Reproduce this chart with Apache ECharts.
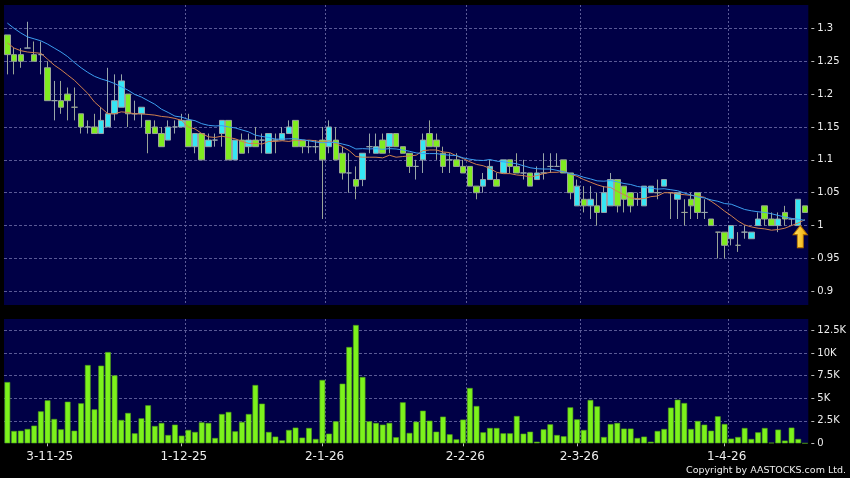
<!DOCTYPE html>
<html>
<head>
<meta charset="utf-8">
<script src="https://cdn.jsdelivr.net/npm/echarts@6/dist/echarts.min.js"></script>
<style>
html,body{margin:0;padding:0;background:#000;}
#chart{width:850px;height:478px;}
</style>
</head>
<body>
<div id="chart"></div>
<script>
// ---- data ----
const categories = [
"23-10-25","24-10-25","27-10-25","28-10-25","30-10-25","31-10-25",
"3-11-25","4-11-25","5-11-25","6-11-25","7-11-25","10-11-25","11-11-25","12-11-25","13-11-25","14-11-25","17-11-25","18-11-25","19-11-25","20-11-25","21-11-25","24-11-25","25-11-25","26-11-25","27-11-25","28-11-25",
"1-12-25","2-12-25","3-12-25","4-12-25","5-12-25","8-12-25","9-12-25","10-12-25","11-12-25","12-12-25","15-12-25","16-12-25","17-12-25","18-12-25","19-12-25","22-12-25","23-12-25","24-12-25","29-12-25","30-12-25","31-12-25",
"2-1-26","5-1-26","6-1-26","7-1-26","8-1-26","9-1-26","12-1-26","13-1-26","14-1-26","15-1-26","16-1-26","19-1-26","20-1-26","21-1-26","22-1-26","23-1-26","26-1-26","27-1-26","28-1-26","29-1-26","30-1-26",
"2-2-26","3-2-26","4-2-26","5-2-26","6-2-26","9-2-26","10-2-26","11-2-26","12-2-26","13-2-26","16-2-26","20-2-26","23-2-26","24-2-26","25-2-26","26-2-26","27-2-26",
"2-3-26","3-3-26","4-3-26","5-3-26","6-3-26","9-3-26","10-3-26","11-3-26","12-3-26","13-3-26","16-3-26","17-3-26","18-3-26","19-3-26","20-3-26","23-3-26","24-3-26","25-3-26","26-3-26","27-3-26","30-3-26","31-3-26",
"1-4-26","2-4-26","8-4-26","9-4-26","10-4-26","13-4-26","14-4-26","15-4-26","16-4-26","17-4-26","20-4-26","21-4-26","22-4-26"
];
const opens = [
1.29,1.26,1.26,1.27,1.26,1.26,1.24,1.19,1.19,1.20,1.18,1.17,1.15,1.15,1.14,1.15,1.17,1.18,1.20,1.17,
1.17,1.16,1.15,1.14,1.13,1.15,1.15,1.16,1.12,1.14,1.12,1.13,1.14,1.16,1.10,1.13,1.12,1.13,1.13,1.11,
1.13,1.13,1.14,1.16,1.13,1.12,1.12,1.13,1.12,1.13,1.11,1.08,1.07,1.07,1.12,1.11,1.13,1.12,1.14,1.12,
1.11,1.09,1.10,1.14,1.13,1.11,1.10,1.10,1.09,1.09,1.06,1.06,1.07,1.07,1.08,1.10,1.09,1.08,1.08,1.07,
1.08,1.09,1.09,1.10,1.08,1.03,1.04,1.03,1.03,1.02,1.03,1.07,1.06,1.05,1.04,1.03,1.05,1.05,1.06,1.05,
1.04,1.02,1.04,1.05,1.02,1.01,0.99,0.99,0.98,0.97,0.99,0.98,1.00,1.03,1.01,1.00,1.02,1.01,1.00,1.03
];
const closes = [
1.26,1.25,1.25,1.27,1.25,1.26,1.19,1.19,1.18,1.19,1.18,1.15,1.15,1.14,1.16,1.17,1.19,1.22,1.17,1.17,
1.18,1.14,1.14,1.12,1.15,1.15,1.16,1.12,1.14,1.10,1.13,1.13,1.16,1.10,1.13,1.11,1.13,1.12,1.13,1.14,
1.13,1.14,1.15,1.12,1.12,1.12,1.12,1.10,1.15,1.10,1.08,1.08,1.06,1.11,1.12,1.12,1.11,1.14,1.12,1.11,
1.09,1.09,1.13,1.12,1.12,1.09,1.10,1.09,1.08,1.06,1.05,1.07,1.09,1.06,1.10,1.09,1.08,1.08,1.06,1.08,
1.08,1.09,1.09,1.08,1.05,1.06,1.03,1.04,1.02,1.05,1.07,1.03,1.04,1.03,1.04,1.06,1.06,1.05,1.07,1.05,
1.05,1.02,1.03,1.02,1.02,1.00,0.99,0.97,1.00,0.97,0.99,0.99,1.01,1.01,1.00,1.01,1.01,1.01,1.04,1.02
];
const lows = [
1.23,1.23,1.24,1.27,1.25,1.23,1.19,1.16,1.17,1.16,1.16,1.14,1.14,1.14,1.14,1.15,1.16,1.18,1.15,1.16,
1.15,1.11,1.14,1.12,1.13,1.14,1.15,1.12,1.11,1.10,1.12,1.12,1.12,1.10,1.10,1.11,1.11,1.12,1.11,1.11,
1.11,1.13,1.14,1.12,1.11,1.11,1.11,1.01,1.11,1.10,1.07,1.05,1.04,1.06,1.11,1.11,1.11,1.11,1.12,1.11,
1.08,1.07,1.08,1.12,1.10,1.08,1.08,1.09,1.08,1.06,1.04,1.05,1.07,1.06,1.08,1.08,1.08,1.07,1.06,1.07,
1.07,1.08,1.09,1.08,1.04,1.03,1.02,1.01,1.00,1.02,1.03,1.02,1.02,1.02,1.03,1.03,1.05,1.04,1.06,1.01,
1.01,1.00,1.01,1.01,1.01,1.00,0.95,0.95,0.97,0.96,0.98,0.98,1.00,1.00,1.00,0.99,1.00,1.00,1.00,1.02
];
const highs = [
1.29,1.27,1.27,1.31,1.28,1.28,1.25,1.22,1.22,1.21,1.21,1.17,1.16,1.17,1.18,1.24,1.23,1.23,1.20,1.19,
1.18,1.16,1.16,1.15,1.16,1.16,1.17,1.17,1.14,1.14,1.14,1.14,1.16,1.16,1.13,1.14,1.14,1.15,1.14,1.14,
1.14,1.15,1.16,1.16,1.13,1.13,1.13,1.15,1.16,1.15,1.12,1.11,1.09,1.11,1.14,1.14,1.14,1.14,1.14,1.12,
1.11,1.10,1.14,1.16,1.14,1.12,1.11,1.11,1.10,1.09,1.06,1.08,1.10,1.08,1.10,1.10,1.11,1.10,1.08,1.09,
1.11,1.11,1.11,1.10,1.08,1.07,1.06,1.06,1.05,1.06,1.08,1.07,1.06,1.05,1.05,1.06,1.06,1.07,1.07,1.05,
1.05,1.04,1.05,1.05,1.04,1.01,0.99,0.99,1.00,0.99,1.00,0.99,1.02,1.03,1.02,1.02,1.03,1.01,1.04,1.03
];
const volumes = [
6800,1370,1400,1590,1960,3550,4770,2700,1550,4620,1400,4440,8690,3770,8620,10130,7540,2590,3370,1110,
2770,4220,1920,2260,920,2070,850,1480,1260,2330,2260,590,3250,3480,1330,2370,3250,6470,4400,1260,
740,330,1480,1740,630,1700,480,7030,1070,2440,6620,10690,13130,7360,2440,2260,2070,2260,670,4550,
1150,2400,3620,2510,1290,2960,1000,440,2630,6140,4140,1220,1700,1700,1110,1110,3030,1070,1290,180,
1550,2110,920,780,3990,2660,1480,4810,4100,700,2140,2260,1630,1630,590,740,180,1370,1590,3960,
4840,4470,1590,2480,2070,1400,3000,2140,520,700,1700,480,1220,1700,70,1520,300,1740,480,0
];
// moving averages for the first days (history before the window)
const ma10Lead = [1.278,1.270,1.266,1.264,1.263,1.262,1.253,1.244,1.237];
const ma20Lead = [1.308,1.300,1.293,1.287,1.284,1.281,1.276,1.270,1.264,1.257,1.248,1.240,1.233,1.227,1.223,1.220,1.216,1.211,1.206];
const priceTicks = [0.9,0.95,1,1.05,1.1,1.15,1.2,1.25,1.3];
const volumeTicks = [0,2500,5000,7500,10000,12500];
const labelIndices = [6,26,47,68,85,107];
const arrowIndex = 118;

// ---- derived ----
function movingAverage(values, n, lead) {
  return values.map(function (v, i) {
    if (i < n - 1) return lead[i];
    let s = 0;
    for (let k = i - n + 1; k <= i; k++) s += values[k];
    return +(s / n).toFixed(4);
  });
}
const ma10 = movingAverage(closes, 10, ma10Lead);
const ma20 = movingAverage(closes, 20, ma20Lead);
const candleData = opens.map(function (o, i) { return [o, closes[i], lows[i], highs[i]]; });
const gridBoundary = labelIndices.map(function (i) { return i + 1; });

const GRID_COLOR = '#5a5a96';
const TEXT_COLOR = '#eeeeee';
const FONT = 'DejaVu Sans';

const chart = echarts.init(document.getElementById('chart'), null, {renderer: 'canvas'});
chart.setOption({
  animation: false,
  backgroundColor: '#000000',
  grid: [
    {left: 4, right: 41.7, top: 5, height: 300, show: true, backgroundColor: '#000046', borderWidth: 0},
    {left: 4, right: 41.7, top: 319, bottom: 34.7, show: true, backgroundColor: '#000046', borderWidth: 0}
  ],
  xAxis: [
    {
      type: 'category', gridIndex: 0, data: categories, boundaryGap: true,
      axisLine: {show: false}, axisTick: {show: false}, axisLabel: {show: false},
      splitLine: {show: true, showMaxLine: false, showMinLine: false,
        interval: function (idx) { return gridBoundary.indexOf(idx) >= 0; },
        lineStyle: {color: GRID_COLOR, type: [2, 2], width: 1}}
    },
    {
      type: 'category', gridIndex: 1, data: categories, boundaryGap: true, offset: 3,
      axisLine: {show: false},
      axisTick: {show: true, alignWithLabel: true, length: 3,
        interval: function (idx) { return labelIndices.indexOf(idx) >= 0; },
        lineStyle: {color: '#bbbbbb'}},
      axisLabel: {show: true, color: TEXT_COLOR, fontFamily: FONT, fontSize: 12, margin: 5,
        padding: [0, 0, 0, 4.4],
        interval: function (idx) { return labelIndices.indexOf(idx) >= 0; }},
      splitLine: {show: true, showMaxLine: false, showMinLine: false,
        interval: function (idx) { return gridBoundary.indexOf(idx) >= 0; },
        lineStyle: {color: GRID_COLOR, type: [2, 2], width: 1}}
    }
  ],
  yAxis: [
    {
      type: 'value', gridIndex: 0, position: 'right', min: 0.8792, max: 1.3355, offset: 3,
      axisLine: {show: false},
      axisTick: {show: true, length: 3, customValues: priceTicks, lineStyle: {color: '#bbbbbb'}},
      axisLabel: {show: true, customValues: priceTicks, color: TEXT_COLOR, fontFamily: FONT, fontSize: 10, margin: 6},
      splitLine: {show: false}
    },
    {
      type: 'value', gridIndex: 1, position: 'right', min: 0, max: 13800, offset: 3,
      axisLine: {show: false},
      axisTick: {show: true, length: 3, customValues: volumeTicks, lineStyle: {color: '#bbbbbb'}},
      axisLabel: {show: true, customValues: volumeTicks, color: TEXT_COLOR, fontFamily: FONT, fontSize: 10, margin: 6,
        formatter: function (v) { return v === 0 ? '0' : (v / 1000) + 'K'; }},
      splitLine: {show: false}
    }
  ],
  series: [
    {
      type: 'candlestick', name: 'Price', xAxisIndex: 0, yAxisIndex: 0,
      data: candleData, barWidth: 6,
      itemStyle: {color: '#36e6f4', color0: '#80ec20', borderColor: '#98a6aa', borderColor0: '#9aa596', borderWidth: 1},
      markLine: {
        silent: true, z: 1, symbol: ['none', 'none'], label: {show: false},
        lineStyle: {color: GRID_COLOR, type: [3, 2], width: 1},
        data: priceTicks.map(function (v) { return {yAxis: v}; })
      },
      markPoint: {
        silent: true, z: 10,
        data: [{
          coord: [categories[arrowIndex], lows[arrowIndex]],
          symbol: 'path://M7,0 L14,9 L10,9 L10,22 L4,22 L4,9 L0,9 Z',
          symbolSize: [14, 22], symbolOffset: [2, '50%'],
          itemStyle: {
            color: {type: 'linear', x: 0, y: 0, x2: 1, y2: 0, colorStops: [
              {offset: 0, color: '#ffe66a'}, {offset: 1, color: '#f0a800'}]},
            borderColor: '#b87400', borderWidth: 1
          },
          label: {show: false}
        }]
      }
    },
    {
      type: 'line', name: 'MA10', xAxisIndex: 0, yAxisIndex: 0, data: ma10,
      showSymbol: false, symbol: 'none', lineStyle: {color: '#d0804e', width: 1}, z: 3
    },
    {
      type: 'line', name: 'MA20', xAxisIndex: 0, yAxisIndex: 0, data: ma20,
      showSymbol: false, symbol: 'none', lineStyle: {color: '#3c9ef0', width: 1}, z: 3
    },
    {
      type: 'bar', name: 'Volume', xAxisIndex: 1, yAxisIndex: 1, data: volumes,
      barWidth: 5.7,
      itemStyle: {color: '#7cf21c', borderColor: '#4f9e18', borderWidth: 0.6},
      markLine: {
        silent: true, z: 1, symbol: ['none', 'none'], label: {show: false},
        lineStyle: {color: GRID_COLOR, type: [3, 2], width: 1},
        data: volumeTicks.filter(function (v) { return v > 0; }).map(function (v) { return {yAxis: v}; })
      }
    }
  ],
  graphic: [{
    type: 'text', right: 4, top: 466, silent: true,
    style: {text: 'Copyright by AASTOCKS.com Ltd.', fill: TEXT_COLOR, font: '9.5px "DejaVu Sans"'}
  }]
});
</script>
</body>
</html>
